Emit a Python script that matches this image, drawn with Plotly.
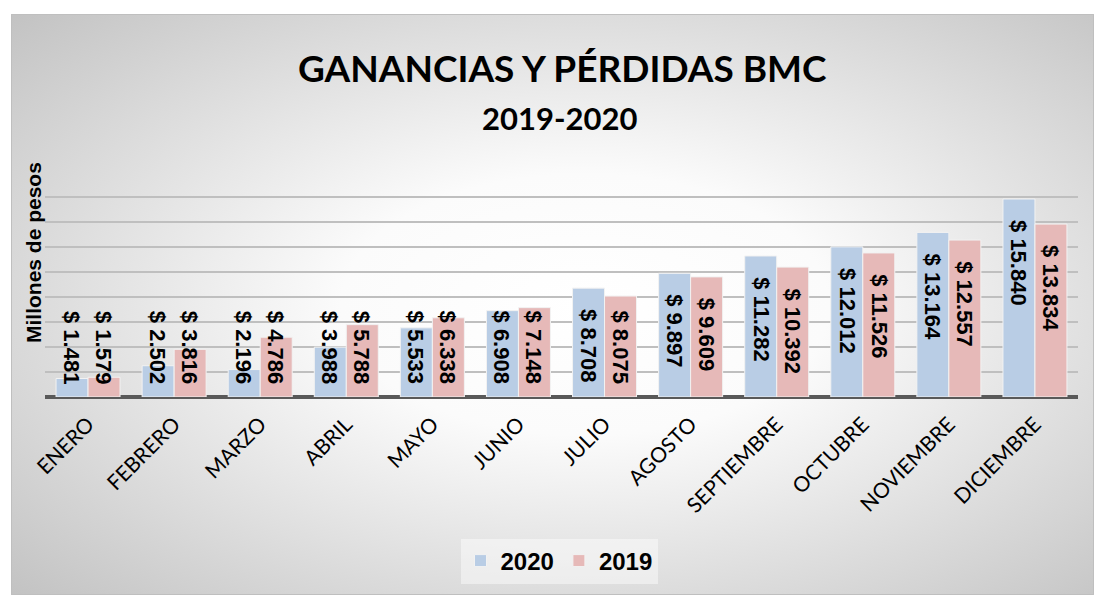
import base64
import plotly.graph_objects as go

months = ["ENERO", "FEBRERO", "MARZO", "ABRIL", "MAYO", "JUNIO", "JULIO",
          "AGOSTO", "SEPTIEMBRE", "OCTUBRE", "NOVIEMBRE", "DICIEMBRE"]
values_2020 = [1.481, 2.502, 2.196, 3.988, 5.533, 6.908, 8.708, 9.897, 11.282, 12.012, 13.164, 15.840]
values_2019 = [1.579, 3.816, 4.786, 5.788, 6.338, 7.148, 8.075, 9.609, 10.392, 11.526, 12.557, 13.834]
labels_2020 = ["$ " + f"{v:.3f}" for v in values_2020]
labels_2019 = ["$ " + f"{v:.3f}" for v in values_2019]

W, H = 1094, 595
ML, MR, MT, MB = 45, 16, 172, 198
PW, PH = W - ML - MR, H - MT - MB
YMAX = 18

BLUE = "#B9CDE5"
PINK = "#E6B9B8"

fig = go.Figure()
fig.add_trace(go.Bar(name="<b>2020</b>", x=months, y=values_2020, marker=dict(color=BLUE, line=dict(color="#F2F2F2", width=1))))
fig.add_trace(go.Bar(name="<b>2019</b>", x=months, y=values_2019, marker=dict(color=PINK, line=dict(color="#F2F2F2", width=1))))

# data labels (inside end, rotated), kept inside the plot when the bar is short
clamp = 8.6
annotations = []
for vals, labs, shift in ((values_2020, labels_2020, -16), (values_2019, labels_2019, 16)):
    for m, v, t in zip(months, vals, labs):
        annotations.append(dict(x=m, y=max(v, clamp), xref="x", yref="y", text="<b>" + t + "</b>",
                                textangle=90, showarrow=False, yanchor="top", xanchor="center",
                                xshift=shift, yshift=-19,
                                font=dict(family="Liberation Sans, Arial", size=22, color="black")))

def px_to_paper_x(px):
    return (px - ML) / PW

def px_to_paper_y(py):
    return (H - MB - py) / PH

annotations.append(dict(text="<b>GANANCIAS Y PÉRDIDAS BMC</b>", xref="paper", yref="paper",
                        x=px_to_paper_x(562), y=px_to_paper_y(68), xanchor="center", yanchor="middle",
                        showarrow=False, font=dict(family="Lato", size=37, color="black")))
annotations.append(dict(text="<b>2019-2020</b>", xref="paper", yref="paper",
                        x=px_to_paper_x(559), y=px_to_paper_y(118), xanchor="center", yanchor="middle",
                        showarrow=False, font=dict(family="Lato", size=31, color="black")))
annotations.append(dict(text="<b>Millones de pesos</b>", xref="paper", yref="paper",
                        x=px_to_paper_x(33), y=px_to_paper_y(253), xanchor="center", yanchor="middle",
                        showarrow=False, textangle=-90,
                        font=dict(family="Liberation Sans, Arial", size=21, color="black")))

# background radial gradient
BX0, BY0 = 11, 14
bw, bh = W - BX0, H - BY0
svg = (f'<svg xmlns="http://www.w3.org/2000/svg" width="{bw}" height="{bh}" viewBox="0 0 {bw} {bh}" preserveAspectRatio="none">'
       '<defs><radialGradient id="g" cx="0.53" cy="0.5" r="0.75">'
       '<stop offset="0" stop-color="#ffffff"/><stop offset="0.3" stop-color="#fbfbfb"/>'
       '<stop offset="1" stop-color="#c0c0c0"/></radialGradient></defs>'
       f'<rect x="0" y="0" width="{bw}" height="{bh}" fill="url(#g)"/></svg>')
src = "data:image/svg+xml;base64," + base64.b64encode(svg.encode()).decode()

fig.update_layout(
    width=W, height=H,
    margin=dict(l=ML, r=MR, t=MT, b=MB, pad=0),
    paper_bgcolor="white", plot_bgcolor="rgba(0,0,0,0)",
    barmode="group", bargap=0.2565, bargroupgap=0.0,
    showlegend=True,
    legend=dict(orientation="h", x=px_to_paper_x(559), xanchor="center", y=px_to_paper_y(561), yanchor="middle",
                bgcolor="rgba(255,255,255,0.45)", font=dict(family="Liberation Sans, Arial", size=24, color="black"),
                itemwidth=30, traceorder="normal"),
    annotations=annotations,
    images=[dict(source=src, xref="paper", yref="paper", x=px_to_paper_x(BX0), y=px_to_paper_y(BY0),
                 sizex=bw / PW, sizey=bh / PH, xanchor="left", yanchor="top", sizing="stretch", layer="below")],
    shapes=[dict(type="rect", xref="paper", yref="paper", x0=px_to_paper_x(BX0 + 0.5), x1=px_to_paper_x(W - 0.5),
                 y0=px_to_paper_y(BY0 + 0.5), y1=px_to_paper_y(H - 0.5), line=dict(color="#BFBFBF", width=1), layer="below")],
    xaxis=dict(tickangle=-45, tickfont=dict(family="Lato", size=21, color="black"), showgrid=False,
               showline=False, ticks="", ticklabelstandoff=10),
    yaxis=dict(range=[0, YMAX], dtick=2, showticklabels=False, showgrid=True, gridcolor="#BFBFBF", gridwidth=1.5,
               zeroline=True, zerolinecolor="#595959", zerolinewidth=4, ticks=""),
)

fig.write_html("out.html", config={"displayModeBar": False},
               post_script="document.body.style.margin='0';document.body.style.overflow='hidden';")
